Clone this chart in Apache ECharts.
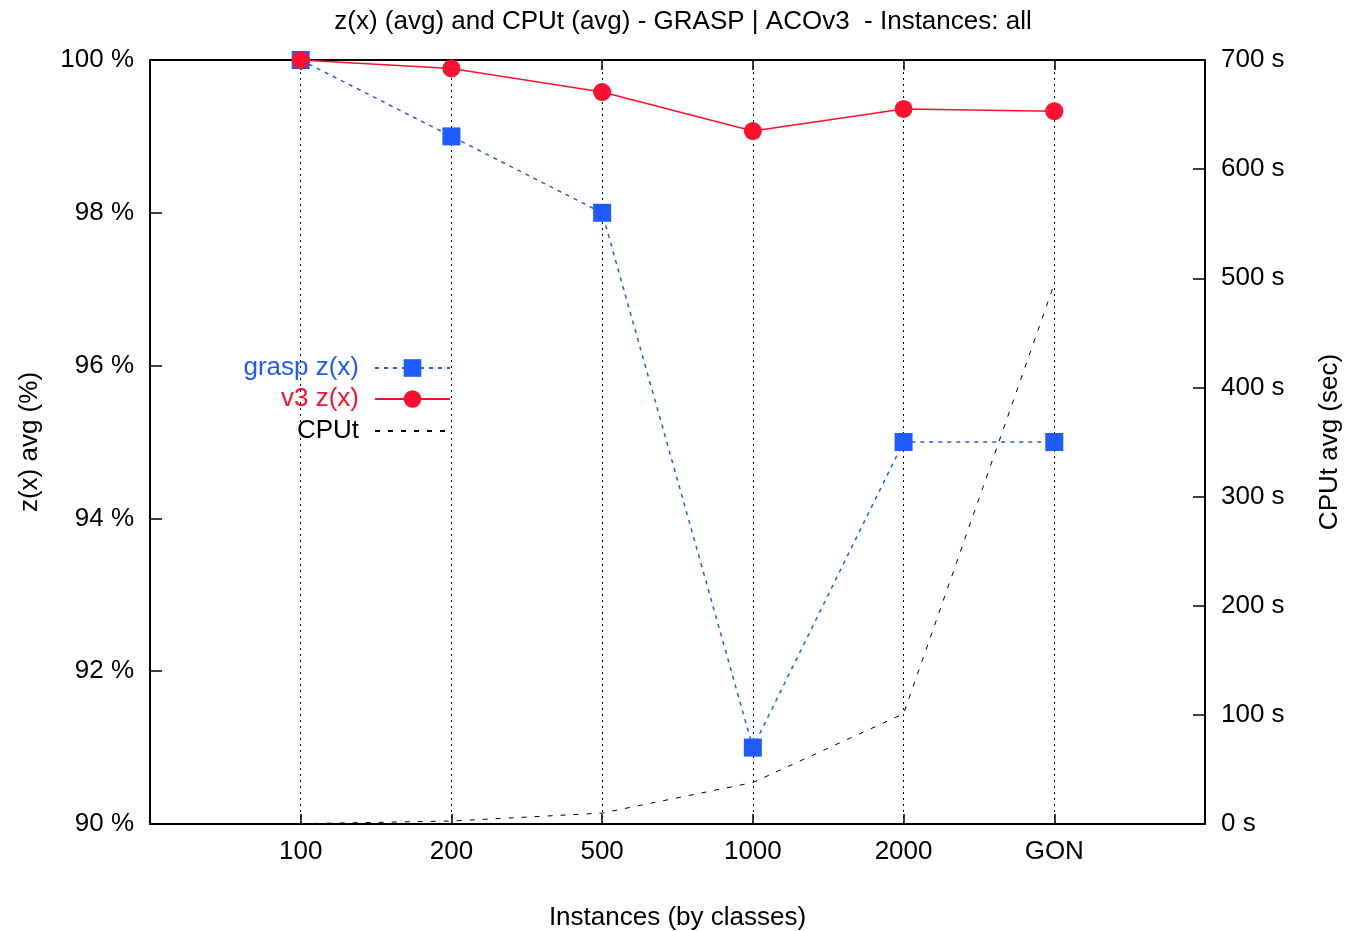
<!DOCTYPE html>
<html><head><meta charset="utf-8">
<script src="https://cdn.jsdelivr.net/npm/echarts@6/dist/echarts.min.js"></script>
<style>html,body{margin:0;padding:0;background:#fff;overflow:hidden}#c{width:1348px;height:931px}</style>
</head><body><div id="c"></div>
<script>
var categories = ['', '100', '200', '500', '1000', '2000', 'GON', ''];
var graspZ = [null, 100, 99.0, 98.0, 91.0, 95.0, 95.0, null];
var v3Z = [null, 100, 99.89, 99.58, 99.07, 99.36, 99.33, null];
var cpuT = [null, 0.3, 2.7, 10, 38, 101, 495, null];
var leftTicks = [90, 92, 94, 96, 98, 100];
var rightTicks = [0, 100, 200, 300, 400, 500, 600, 700];

var FONT = 'Liberation Sans, Arial, sans-serif';
var FS = 26;
var chart = echarts.init(document.getElementById('c'), null, {renderer: 'canvas'});
function legendItem(name, color, top, extra) {
  var item = {name: name, textStyle: {color: color}};
  if (extra) { for (var k in extra) item[k] = extra[k]; }
  return {
    orient: 'vertical', right: 897, top: top, align: 'right',
    itemWidth: 75, itemHeight: 22, itemGap: 0, padding: 0,
    data: [item],
    textStyle: {fontFamily: FONT, fontSize: FS, color: color, padding: [0, 11, 0, 0]},
    selectedMode: false
  };
}
chart.setOption({
  animation: false,
  title: {
    text: 'z(x) (avg) and CPUt (avg) - GRASP | ACOv3  - Instances: all',
    left: 678, top: 4, textAlign: 'center',
    textStyle: {fontFamily: FONT, fontSize: FS, fontWeight: 'normal', color: '#000'}
  },
  legend: [
    legendItem('grasp z(x)', '#1f5bff', 355),
    legendItem('v3 z(x)', '#ff1030', 386),
    legendItem('CPUt', '#000', 418, {itemStyle: {color: 'rgba(0,0,0,0)', borderWidth: 0}})
  ],
  grid: {left: 150, right: 143, top: 60, bottom: 107, containLabel: false, outerBoundsMode: 'none'},
  xAxis: [{
    type: 'category', data: categories, boundaryGap: false,
    name: 'Instances (by classes)', nameLocation: 'middle', nameGap: 81,
    nameTextStyle: {fontFamily: FONT, fontSize: FS, color: '#000'},
    axisLine: {lineStyle: {color: '#000', width: 2}},
    axisTick: {inside: true, length: 10, lineStyle: {color: '#000', width: 1.5},
      interval: function (i, v) { return v !== ''; }},
    axisLabel: {fontFamily: FONT, fontSize: FS, color: '#000', margin: 15,
      interval: function (i, v) { return v !== ''; }},
    splitLine: {show: true, interval: function (i, v) { return v !== ''; },
      lineStyle: {color: '#000', width: 1, type: [2, 4]}}
  }, {
    type: 'category', data: categories, boundaryGap: false, position: 'top',
    axisLine: {lineStyle: {color: '#000', width: 2}},
    axisTick: {inside: true, length: 10, lineStyle: {color: '#000', width: 1.5},
      interval: function (i, v) { return v !== ''; }},
    axisLabel: {show: false}, splitLine: {show: false}
  }],
  yAxis: [{
    type: 'value', min: 90, max: 100, interval: 2, position: 'left',
    name: 'z(x) avg (%)', nameLocation: 'middle', nameGap: 107, nameRotate: 90,
    nameTextStyle: {fontFamily: FONT, fontSize: FS, color: '#000'},
    axisLine: {show: true, lineStyle: {color: '#000', width: 2}},
    axisTick: {show: true, inside: true, length: 12, lineStyle: {color: '#000', width: 1.5}},
    axisLabel: {fontFamily: FONT, fontSize: FS, color: '#000', margin: 16, padding: [4, 0, 0, 0],
      formatter: function (v) { return leftTicks.indexOf(v) >= 0 ? v + ' %' : ''; }},
    splitLine: {show: false}
  }, {
    type: 'value', min: 0, max: 700, interval: 100, position: 'right',
    name: 'CPUt avg (sec)', nameLocation: 'middle', nameGap: 112, nameRotate: 90,
    nameTextStyle: {fontFamily: FONT, fontSize: FS, color: '#000'},
    axisLine: {show: true, lineStyle: {color: '#000', width: 2}},
    axisTick: {show: true, inside: true, length: 12, lineStyle: {color: '#000', width: 1.5}},
    axisLabel: {fontFamily: FONT, fontSize: FS, color: '#000', margin: 16, padding: [4, 0, 0, 0],
      formatter: function (v) { return rightTicks.indexOf(v) >= 0 ? v + ' s' : ''; }},
    splitLine: {show: false}
  }],
  series: [{
    name: 'grasp z(x)', type: 'line', data: graspZ, yAxisIndex: 0, xAxisIndex: 0,
    symbol: 'rect', symbolSize: 18, z: 3,
    itemStyle: {color: '#1f5bff'},
    lineStyle: {color: '#1f5bff', width: 1.5, type: [4, 5]}
  }, {
    name: 'v3 z(x)', type: 'line', data: v3Z, yAxisIndex: 0, xAxisIndex: 0,
    symbol: 'circle', symbolSize: 18, z: 4,
    itemStyle: {color: '#ff1030'},
    lineStyle: {color: '#ff1030', width: 1.5}
  }, {
    name: 'CPUt', type: 'line', data: cpuT, yAxisIndex: 1, xAxisIndex: 0,
    symbol: 'none', z: 2,
    itemStyle: {color: '#000'},
    lineStyle: {color: '#000', width: 1, type: [5, 8]}
  }]
});
</script></body></html>
